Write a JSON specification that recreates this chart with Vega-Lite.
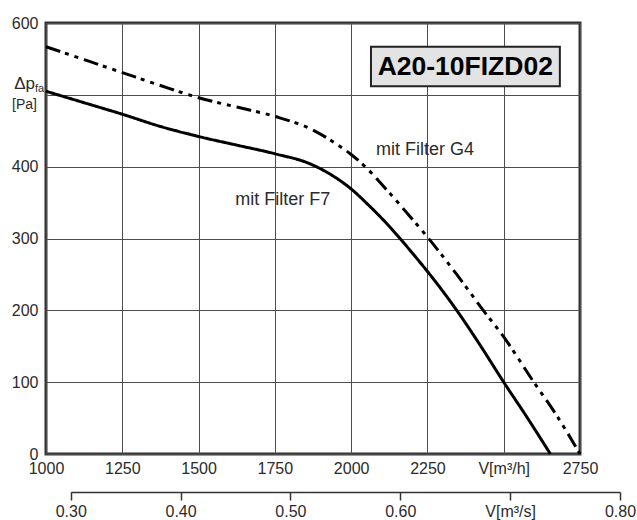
{
  "$schema": "https://vega.github.io/schema/vega-lite/v6.json",
  "width": 534,
  "height": 431,
  "autosize": "none",
  "padding": {"left": 46, "top": 23, "right": 57, "bottom": 66},
  "background": "white",
  "config": {
    "font": "Liberation Sans",
    "view": {"stroke": "#333333", "strokeWidth": 3},
    "axis": {
      "labelFont": "Liberation Sans",
      "labelFontSize": 16,
      "labelColor": "#2b2b2b",
      "labelFlush": false,
      "labelOverlap": false,
      "labelBound": false,
      "gridColor": "#4d4d4d",
      "gridWidth": 1,
      "gridOpacity": 1
    }
  },
  "datasets": {
    "curves": [
      {"q": 1000, "p": 505, "filter": "F7"},
      {"q": 1125, "p": 489, "filter": "F7"},
      {"q": 1250, "p": 473, "filter": "F7"},
      {"q": 1375, "p": 456, "filter": "F7"},
      {"q": 1500, "p": 442, "filter": "F7"},
      {"q": 1625, "p": 430, "filter": "F7"},
      {"q": 1750, "p": 418, "filter": "F7"},
      {"q": 1865, "p": 404, "filter": "F7"},
      {"q": 1941, "p": 387, "filter": "F7"},
      {"q": 2000, "p": 369, "filter": "F7"},
      {"q": 2051, "p": 349, "filter": "F7"},
      {"q": 2127, "p": 316, "filter": "F7"},
      {"q": 2200, "p": 280, "filter": "F7"},
      {"q": 2280, "p": 238, "filter": "F7"},
      {"q": 2346, "p": 200, "filter": "F7"},
      {"q": 2422, "p": 152, "filter": "F7"},
      {"q": 2500, "p": 100, "filter": "F7"},
      {"q": 2575, "p": 52, "filter": "F7"},
      {"q": 2653, "p": 0, "filter": "F7"},
      {"q": 1000, "p": 567, "filter": "G4"},
      {"q": 1125, "p": 549, "filter": "G4"},
      {"q": 1250, "p": 531, "filter": "G4"},
      {"q": 1375, "p": 513, "filter": "G4"},
      {"q": 1500, "p": 496, "filter": "G4"},
      {"q": 1625, "p": 483, "filter": "G4"},
      {"q": 1750, "p": 470, "filter": "G4"},
      {"q": 1875, "p": 451, "filter": "G4"},
      {"q": 1950, "p": 432, "filter": "G4"},
      {"q": 2000, "p": 417, "filter": "G4"},
      {"q": 2051, "p": 398, "filter": "G4"},
      {"q": 2116, "p": 368, "filter": "G4"},
      {"q": 2182, "p": 336, "filter": "G4"},
      {"q": 2250, "p": 302, "filter": "G4"},
      {"q": 2346, "p": 250, "filter": "G4"},
      {"q": 2433, "p": 200, "filter": "G4"},
      {"q": 2500, "p": 163, "filter": "G4"},
      {"q": 2597, "p": 101, "filter": "G4"},
      {"q": 2673, "p": 54, "filter": "G4"},
      {"q": 2750, "p": 0, "filter": "G4"}
    ],
    "curveLabels": [
      {"q": 2242, "p": 423, "text": "mit Filter G4"},
      {"q": 1776, "p": 353, "text": "mit Filter F7"}
    ],
    "badge": [
      {"q": 2065, "q2": 2684, "p": 567, "p2": 512, "qc": 2374, "pc": 539.5, "text": "A20-10FIZD02"}
    ],
    "yTitle": [
      {"q": 1000, "p": 500}
    ],
    "secondary": [
      {"qs": 0.3},
      {"qs": 0.8}
    ]
  },
  "layer": [
    {
      "layer": [
        {
          "data": {"name": "curves"},
          "mark": {"type": "line", "color": "#000000", "strokeWidth": 3, "interpolate": "monotone", "strokeCap": "butt"},
          "encoding": {
            "x": {
              "field": "q", "type": "quantitative",
              "scale": {"domain": [1000, 2750], "nice": false, "zero": false},
              "axis": {
                "values": [1000, 1250, 1500, 1750, 2000, 2250, 2500, 2750],
                "labelExpr": "datum.value == 2500 ? 'V[m³/h]' : datum.label",
                "format": "d",
                "title": null, "grid": true, "ticks": false, "tickSize": 0,
                "domain": false, "labelPadding": 6
              }
            },
            "y": {
              "field": "p", "type": "quantitative",
              "scale": {"domain": [0, 600], "nice": false},
              "axis": {
                "values": [0, 100, 200, 300, 400, 500, 600],
                "labelExpr": "datum.value == 500 ? '' : datum.label",
                "title": null, "grid": true, "ticks": false, "tickSize": 0,
                "domain": false, "labelPadding": 8
              }
            },
            "detail": {"field": "filter"},
            "strokeDash": {
              "field": "filter", "type": "nominal",
              "scale": {"domain": ["F7", "G4"], "range": [[1, 0], [15, 5, 4, 6, 4, 6]]},
              "legend": null
            }
          }
        },
        {
          "data": {"name": "curveLabels"},
          "mark": {"type": "text", "fontSize": 18, "color": "#2b2b2b", "align": "center", "baseline": "middle"},
          "encoding": {
            "x": {"field": "q", "type": "quantitative"},
            "y": {"field": "p", "type": "quantitative"},
            "text": {"field": "text"}
          }
        },
        {
          "data": {"name": "badge"},
          "mark": {"type": "rect", "fill": "#e3e3e3", "stroke": "#222222", "strokeWidth": 2},
          "encoding": {
            "x": {"field": "q", "type": "quantitative"},
            "x2": {"field": "q2"},
            "y": {"field": "p", "type": "quantitative"},
            "y2": {"field": "p2"}
          }
        },
        {
          "data": {"name": "badge"},
          "mark": {"type": "text", "fontSize": 26.5, "fontWeight": "bold", "color": "#000000", "align": "center", "baseline": "middle", "dy": 1},
          "encoding": {
            "x": {"field": "qc", "type": "quantitative"},
            "y": {"field": "pc", "type": "quantitative"},
            "text": {"field": "text"}
          }
        },
        {
          "data": {"name": "yTitle"},
          "mark": {"type": "text", "text": "Δp", "fontSize": 17, "color": "#2b2b2b", "align": "right", "baseline": "alphabetic", "dx": -11, "dy": -6, "clip": false},
          "encoding": {
            "x": {"field": "q", "type": "quantitative"},
            "y": {"field": "p", "type": "quantitative"}
          }
        },
        {
          "data": {"name": "yTitle"},
          "mark": {"type": "text", "text": "fa", "fontSize": 11, "color": "#2b2b2b", "align": "left", "baseline": "alphabetic", "dx": -11, "dy": -3, "clip": false},
          "encoding": {
            "x": {"field": "q", "type": "quantitative"},
            "y": {"field": "p", "type": "quantitative"}
          }
        },
        {
          "data": {"name": "yTitle"},
          "mark": {"type": "text", "text": "[Pa]", "fontSize": 14, "color": "#2b2b2b", "align": "right", "baseline": "middle", "dx": -9, "dy": 10, "clip": false},
          "encoding": {
            "x": {"field": "q", "type": "quantitative"},
            "y": {"field": "p", "type": "quantitative"}
          }
        }
      ]
    },
    {
      "data": {"name": "secondary"},
      "mark": {"type": "point", "opacity": 0},
      "encoding": {
        "x": {
          "field": "qs", "type": "quantitative",
          "scale": {"domain": [0.3, 0.8], "range": [24.7, 574], "nice": false, "zero": false},
          "axis": {
            "orient": "bottom",
            "offset": 38,
            "values": [0.3, 0.4, 0.5, 0.6, 0.7, 0.8],
            "format": ".2f",
            "labelExpr": "abs(datum.value - 0.7) < 0.001 ? 'V[m³/s]' : datum.label",
            "title": null,
            "grid": false,
            "domain": true,
            "domainColor": "#333333",
            "domainWidth": 1.5,
            "ticks": true,
            "tickColor": "#333333",
            "tickWidth": 1.5,
            "tickSize": 8,
            "labelPadding": 3
          }
        }
      }
    }
  ],
  "resolve": {"scale": {"x": "independent"}}
}
